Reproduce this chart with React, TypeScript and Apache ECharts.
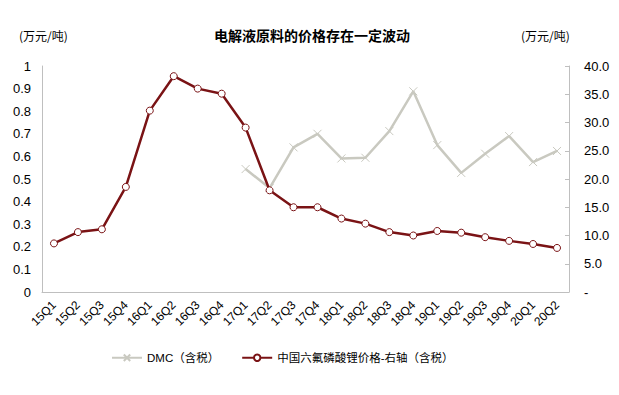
import React, { useEffect, useRef } from "react";
import * as echarts from "echarts";

const categories = ["15Q1","15Q2","15Q3","15Q4","16Q1","16Q2","16Q3","16Q4","17Q1","17Q2","17Q3","17Q4","18Q1","18Q2","18Q3","18Q4","19Q1","19Q2","19Q3","19Q4","20Q1","20Q2"];
const dmc: (number | null)[] = [null,null,null,null,null,null,null,null,0.544,0.46,0.64,0.70,0.591,0.594,0.712,0.888,0.65,0.527,0.612,0.69,0.575,0.624];
const lipf6 = [8.6,10.6,11.1,18.6,32.1,38.2,36.0,35.1,29.1,18.0,15.0,15.0,13.0,12.1,10.6,10.0,10.8,10.5,9.7,9.05,8.5,7.8];
const titleText = "电解液原料的价格存在一定波动";
const unitText = "(万元/吨)";
const dmcName = "DMC（含税）";
const lipf6Name = "中国六氟磷酸锂价格-右轴（含税）";

const RED = "#7A1315";
const GRAY = "#C9C9C0";
const AXIS = "#BFBFBF";
const FONT = "Liberation Sans, Arial, sans-serif";

export default function App() {
  const ref = useRef<HTMLDivElement>(null);
  useEffect(() => {
    const chart = echarts.init(ref.current!, null, { renderer: "svg" });
    chart.setOption({
      animation: false,
      backgroundColor: "#fff",
      textStyle: { fontFamily: FONT },
      graphic: [
        { type: "rect", shape: { x: 0, y: 2, width: 619, height: 2 }, style: { fill: RED } },
        { type: "rect", shape: { x: 0, y: 4, width: 619, height: 1 }, style: { fill: "#D9B0B0" } },
        { type: "rect", shape: { x: 0, y: 391, width: 619, height: 1 }, style: { fill: "#D9B0B0" } },
        { type: "rect", shape: { x: 0, y: 392, width: 619, height: 2 }, style: { fill: RED } },
        { type: "text", x: 312, y: 35, style: { text: titleText, fill: "#000", font: "bold 14px 'Noto Sans CJK SC'", align: "center", verticalAlign: "middle" } },
        { type: "text", x: 19, y: 35, style: { text: unitText, fill: "#000", font: "12px 'Noto Sans CJK SC'", align: "left", verticalAlign: "middle" } },
        { type: "text", x: 521, y: 35, style: { text: unitText, fill: "#000", font: "12px 'Noto Sans CJK SC'", align: "left", verticalAlign: "middle" } },
      ],
      legend: {
        top: 347,
        left: 106,
        itemWidth: 30,
        itemHeight: 8,
        itemGap: 22,
        textStyle: { fontFamily: "Liberation Sans, 'Noto Sans CJK SC'", fontSize: 11.5, color: "#000" },
        data: [dmcName, lipf6Name],
      },
      grid: { left: 42, right: 50, top: 66, bottom: 103, containLabel: false },
      xAxis: {
        type: "category",
        data: categories,
        boundaryGap: true,
        axisLine: { lineStyle: { color: AXIS } },
        axisTick: { inside: true, length: 4, lineStyle: { color: AXIS } },
        axisLabel: { rotate: 45, fontSize: 12, color: "#000", interval: 0, margin: 11 },
      },
      yAxis: [
        {
          type: "value",
          min: 0,
          max: 1,
          interval: 0.1,
          axisLine: { show: true, lineStyle: { color: AXIS } },
          axisTick: { show: false },
          splitLine: { show: false },
          axisLabel: { fontSize: 13, color: "#000", margin: 11, formatter: (v: number) => (v === 0 ? "0" : v === 1 ? "1" : v.toFixed(1)) },
        },
        {
          type: "value",
          min: 0,
          max: 40,
          interval: 5,
          position: "right",
          axisLine: { show: true, lineStyle: { color: AXIS } },
          axisTick: { show: true, inside: true, length: 4, lineStyle: { color: AXIS } },
          splitLine: { show: false },
          axisLabel: { fontSize: 13, color: "#000", margin: 15, formatter: (v: number) => (v === 0 ? "-" : v.toFixed(1)) },
        },
      ],
      series: [
        {
          name: dmcName,
          type: "line",
          yAxisIndex: 0,
          data: dmc,
          connectNulls: false,
          symbol: "path://M0,0L10,10M10,0L0,10",
          symbolSize: 8,
          showAllSymbol: true,
          lineStyle: { color: GRAY, width: 2.5 },
          itemStyle: { color: GRAY, borderColor: GRAY, borderWidth: 1 },
          z: 2,
        },
        {
          name: lipf6Name,
          type: "line",
          yAxisIndex: 1,
          data: lipf6,
          symbol: "circle",
          symbolSize: 7,
          showAllSymbol: true,
          lineStyle: { color: RED, width: 2.5 },
          itemStyle: { color: "#fff", borderColor: RED, borderWidth: 1 },
          z: 3,
        },
      ],
    });
    return () => chart.dispose();
  }, []);
  return <div ref={ref} style={{ width: 619, height: 395, margin: -8 }} />;
}
